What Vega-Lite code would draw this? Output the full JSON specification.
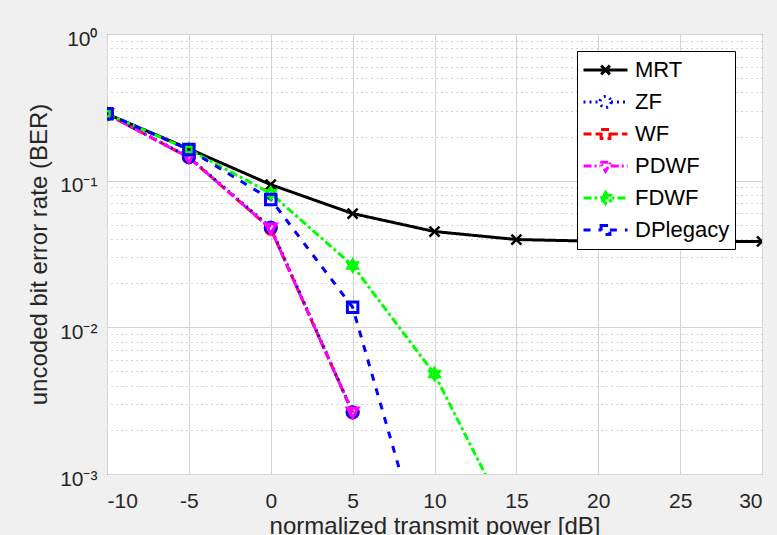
{
  "$schema": "https://vega.github.io/schema/vega-lite/v6.json",
  "width": 655,
  "height": 440,
  "autosize": {"type": "none"},
  "padding": {"left": 107, "top": 34, "right": 15, "bottom": 61},
  "background": "#f0f0f0",
  "config": {
    "view": {"fill": "white", "stroke": "#262626", "strokeWidth": 1},
    "font": "Liberation Sans",
    "axis": {"labelFont": "Liberation Sans", "titleFont": "Liberation Sans", "labelColor": "#262626", "titleColor": "#262626", "titleFontWeight": "normal"},
    "legend": {
      "orient": "none", "legendX": 470, "legendY": 17,
      "fillColor": "white", "strokeColor": "#000000", "padding": 5,
      "labelFont": "Liberation Sans", "labelFontSize": 22, "labelColor": "#000000",
      "symbolSize": 1936, "clipHeight": 28, "rowPadding": 4, "labelOffset": 6,
      "symbolStrokeWidth": 3, "title": null
    }
  },
  "data": {"values": [
    {"series": "MRT", "x": -10, "y": 0.285},
    {"series": "MRT", "x": -5, "y": 0.165},
    {"series": "MRT", "x": 0, "y": 0.094},
    {"series": "MRT", "x": 5, "y": 0.0597},
    {"series": "MRT", "x": 10, "y": 0.045},
    {"series": "MRT", "x": 15, "y": 0.0397},
    {"series": "MRT", "x": 20, "y": 0.0386},
    {"series": "MRT", "x": 25, "y": 0.0383},
    {"series": "MRT", "x": 30, "y": 0.0385},
    {"series": "WF", "x": -10, "y": 0.284},
    {"series": "WF", "x": -5, "y": 0.144},
    {"series": "WF", "x": 0, "y": 0.047},
    {"series": "WF", "x": 5, "y": 0.00262},
    {"series": "ZF", "x": -10, "y": 0.285},
    {"series": "ZF", "x": -5, "y": 0.145},
    {"series": "ZF", "x": 0, "y": 0.048},
    {"series": "ZF", "x": 5, "y": 0.00264},
    {"series": "PD_WF", "x": -10, "y": 0.284},
    {"series": "PD_WF", "x": -5, "y": 0.144},
    {"series": "PD_WF", "x": 0, "y": 0.047},
    {"series": "PD_WF", "x": 5, "y": 0.00262},
    {"series": "FD_WF", "x": -10, "y": 0.285},
    {"series": "FD_WF", "x": -5, "y": 0.163},
    {"series": "FD_WF", "x": 0, "y": 0.082},
    {"series": "FD_WF", "x": 5, "y": 0.0264},
    {"series": "FD_WF", "x": 10, "y": 0.0048},
    {"series": "FD_WF", "x": 15, "y": 0.00038},
    {"series": "DP_legacy", "x": -10, "y": 0.286},
    {"series": "DP_legacy", "x": -5, "y": 0.163},
    {"series": "DP_legacy", "x": 0, "y": 0.0745},
    {"series": "DP_legacy", "x": 5, "y": 0.0137},
    {"series": "DP_legacy", "x": 10, "y": 0.00016}
  ]},
  "resolve": {"axis": {"y": "independent"}},
  "encoding": {
    "x": {"field": "x", "type": "quantitative"},
    "y": {"field": "y", "type": "quantitative"}
  },
  "layer": [
    {
      "mark": {"type": "line", "strokeWidth": 3, "clip": true},
      "encoding": {
        "x": {"field": "x", "type": "quantitative",
          "scale": {"domain": [-10, 30], "nice": false, "zero": false},
          "axis": {"values": [-10, -5, 0, 5, 10, 15, 20, 25, 30], "labelExpr": "'' + datum.value", "title": "normalized transmit power [dB]",
            "grid": true, "gridColor": "#d4d4d4", "gridWidth": 1, "domain": false, "ticks": false,
            "labelFontSize": 21, "labelPadding": 16, "titleFontSize": 24, "titlePadding": 3}},
        "y": {"field": "y", "type": "quantitative",
          "scale": {"type": "log", "domain": [0.001, 1], "nice": false},
          "axis": {"values": [1, 0.1, 0.01, 0.001], "orient": "left",
            "labelExpr": "datum.value >= 0.9 ? '10⁰' : datum.value >= 0.09 ? '10⁻¹' : datum.value >= 0.009 ? '10⁻²' : '10⁻³'",
            "title": "uncoded bit error rate (BER)", "grid": true, "gridColor": "#d4d4d4", "gridWidth": 1,
            "domain": false, "ticks": false, "labelFontSize": 21, "labelPadding": 10, "labelOffset": 5,
            "titleFontSize": 24, "titlePadding": 8}},
        "color": {"field": "series", "type": "nominal", "legend": {"labelExpr": "replace(datum.label, '_', '')"},
          "scale": {"domain": ["MRT", "ZF", "WF", "PD_WF", "FD_WF", "DP_legacy"],
            "range": ["#000000", "#0000ff", "#ff0000", "#ff00ff", "#00ff00", "#0000ff"]}},
        "strokeDash": {"field": "series", "type": "nominal", "legend": {"labelExpr": "replace(datum.label, '_', '')"},
          "scale": {"domain": ["MRT", "ZF", "WF", "PD_WF", "FD_WF", "DP_legacy"],
            "range": [[1, 0], [2, 4], [8, 4], [8, 3, 2, 3], [8, 3, 3, 3], [7, 8]]}}
      }
    },
    {
      "transform": [{"filter": "datum.series == 'MRT'"}],
      "mark": {"type": "point", "filled": false, "strokeWidth": 2.5, "size": 100, "clip": true, "opacity": 1, "shape": "M-1,-1L1,1M-1,1L1,-1"},
      "encoding": {
        "y": {"field": "y", "type": "quantitative",
          "axis": {"orient": "right", "values": [0.9, 0.8, 0.7, 0.6, 0.5, 0.4, 0.3, 0.2, 0.09, 0.08, 0.07, 0.06, 0.05, 0.04, 0.03, 0.02, 0.009, 0.008, 0.007, 0.006, 0.005, 0.004, 0.003, 0.002],
            "labels": false, "ticks": false, "domain": false, "title": null, "grid": true,
            "gridColor": "#a8a8a8", "gridDash": [1, 4], "gridWidth": 1}},
        "color": {"field": "series", "type": "nominal", "legend": {"labelExpr": "replace(datum.label, '_', '')"}}
      }
    },
    {
      "transform": [{"filter": "datum.series == 'WF' || datum.series == 'ZF'"}],
      "mark": {"type": "point", "filled": false, "strokeWidth": 3, "size": 120, "clip": true, "opacity": 1, "shape": "circle"},
      "encoding": {
        "y": {"field": "y", "type": "quantitative", "axis": null},
        "color": {"field": "series", "type": "nominal", "legend": {"labelExpr": "replace(datum.label, '_', '')"}}
      }
    },
    {
      "transform": [{"filter": "datum.series == 'PD_WF'"}],
      "mark": {"type": "point", "filled": false, "strokeWidth": 3, "size": 120, "clip": true, "opacity": 1, "shape": "triangle-down"},
      "encoding": {
        "y": {"field": "y", "type": "quantitative", "axis": null},
        "color": {"field": "series", "type": "nominal", "legend": {"labelExpr": "replace(datum.label, '_', '')"}}
      }
    },
    {
      "transform": [{"filter": "datum.series == 'FD_WF'"}],
      "mark": {"type": "point", "filled": false, "strokeWidth": 3, "size": 120, "clip": true, "opacity": 1, "shape": "M0,-1L0.289,-0.5L0.866,-0.5L0.577,0L0.866,0.5L0.289,0.5L0,1L-0.289,0.5L-0.866,0.5L-0.577,0L-0.866,-0.5L-0.289,-0.5Z"},
      "encoding": {
        "y": {"field": "y", "type": "quantitative", "axis": null},
        "color": {"field": "series", "type": "nominal", "legend": {"labelExpr": "replace(datum.label, '_', '')"}}
      }
    },
    {
      "transform": [{"filter": "datum.series == 'DP_legacy'"}],
      "mark": {"type": "point", "filled": false, "strokeWidth": 3, "size": 110, "clip": true, "opacity": 1, "shape": "square"},
      "encoding": {
        "y": {"field": "y", "type": "quantitative", "axis": null},
        "color": {"field": "series", "type": "nominal", "legend": {"labelExpr": "replace(datum.label, '_', '')"}}
      }
    },
    {
      "transform": [{"filter": "false"}],
      "mark": {"type": "point", "filled": false, "strokeWidth": 3},
      "encoding": {
        "y": {"field": "y", "type": "quantitative", "axis": null},
        "color": {"field": "series", "type": "nominal", "legend": {"labelExpr": "replace(datum.label, '_', '')"}},
        "strokeDash": {"field": "series", "type": "nominal", "legend": {"labelExpr": "replace(datum.label, '_', '')"}},
        "shape": {"field": "series", "type": "nominal", "legend": {"labelExpr": "replace(datum.label, '_', '')"},
          "scale": {"domain": ["MRT", "ZF", "WF", "PD_WF", "FD_WF", "DP_legacy"],
            "range": [
              "M-1,0H1M-0.2,-0.2L0.2,0.2M-0.2,0.2L0.2,-0.2",
              "M-1,0H-0.25M0.25,0H1M0.25,0A0.25,0.25 0 1,1 -0.25,0A0.25,0.25 0 1,1 0.25,0",
              "M-1,0H-0.2M0.2,0H1M-0.2,-0.2H0.2V0.2H-0.2Z",
              "M-1,0H-0.24M0.24,0H1M-0.24,-0.17H0.24L0,0.24Z",
              "M-1,0H1M0,-0.25L0.072,-0.125L0.217,-0.125L0.144,0L0.217,0.125L0.072,0.125L0,0.25L-0.072,0.125L-0.217,0.125L-0.144,0L-0.217,-0.125L-0.072,-0.125Z",
              "M-1,0H-0.2M0.2,0H1M-0.2,-0.2H0.2V0.2H-0.2Z"
            ]}}
      }
    }
  ]
}
